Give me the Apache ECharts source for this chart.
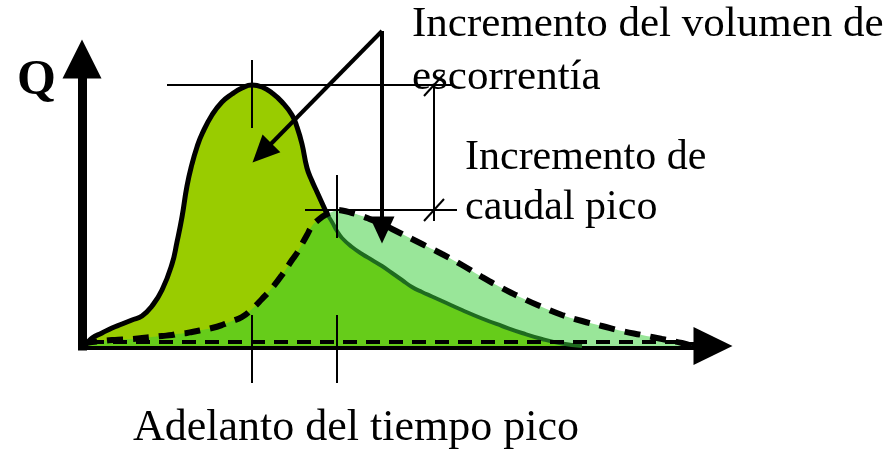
<!DOCTYPE html>
<html>
<head>
<meta charset="utf-8">
<script src="https://cdn.jsdelivr.net/npm/echarts@6/dist/echarts.min.js"></script>
<style>
  html, body { margin: 0; padding: 0; background: #fff; }
  #chart { width: 894px; height: 449px; }
</style>
</head>
<body>
<div id="chart"></div>
<script>
// tiempo (unidades arbitrarias) y caudal de los dos hidrogramas
var tiempo = [0, 0.5, 1, 2, 3, 4, 5, 6, 7, 8, 9, 9.5, 10, 10.5, 11, 11.5, 12, 13, 14, 15, 16, 17, 18, 19, 20, 21, 21.5, 22, 22.5, 23, 23.5, 24, 24.5, 25, 25.5, 26, 27, 28, 29, 30, 31, 32, 33, 34, 35, 36, 38, 40, 42, 44, 46, 48, 50, 52, 54, 56, 58, 60, 61];
var caudalUrbano = [0, 0.3, 0.8, 1.3, 1.8, 2.2, 2.6, 3.0, 4.0, 5.6, 8.2, 10.4, 12.9, 16.0, 18.2, 19.9, 21.2, 23.1, 24.4, 25.2, 25.8, 26.1, 25.9, 25.3, 24.4, 23.1, 21.9, 20.2, 17.8, 16.5, 15.4, 14.3, 13.2, 12.4, 11.5, 10.8, 9.9, 9.2, 8.6, 8.0, 7.3, 6.6, 5.9, 5.4, 4.95, 4.5, 3.6, 2.75, 2.0, 1.3, 0.7, 0.25, 0, 0, 0, 0, 0, 0, 0];
var caudalNatural = [0, 0.3, 0.4, 0.5, 0.6, 0.65, 0.7, 0.8, 0.9, 1.0, 1.1, 1.2, 1.25, 1.3, 1.4, 1.5, 1.6, 1.8, 2.1, 2.5, 2.9, 3.7, 4.7, 5.8, 7.1, 8.6, 9.3, 10.2, 11.1, 12.0, 12.5, 12.9, 13.2, 13.4, 13.6, 13.55, 13.3, 13.0, 12.6, 12.2, 11.7, 11.2, 10.7, 10.2, 9.7, 9.2, 8.1, 6.9, 5.8, 4.8, 3.9, 3.1, 2.5, 2.0, 1.5, 1.1, 0.7, 0.3, 0];

// anotaciones (mismas unidades que los datos)
var cotaX = 35.2;
var origenFlechas = [30.0, 31.5];
var finFlechas = [[18.0, 19.3], [30.0, 11.6]];

var textoVolumen = ['Incremento del volumen de', 'escorrentía'];
var textoCaudal = ['Incremento de', 'caudal pico'];
var textoTiempo = 'Adelanto del tiempo pico';
var textoEje = 'Q';

function pares(ys) {
    return tiempo.map(function (t, i) { return [t, ys[i]]; });
}
function pico(ys) {
    var k = 0;
    ys.forEach(function (v, i) { if (v > ys[k]) k = i; });
    return [tiempo[k], ys[k], k];
}

var picoU = pico(caudalUrbano);
var picoN = pico(caudalNatural);
var comun = caudalUrbano.map(function (v, i) { return Math.min(v, caudalNatural[i]); });
// punto donde la curva urbana baja por debajo de la natural
var corte = tiempo.findIndex(function (t, i) { return i > picoU[2] && caudalUrbano[i] <= caudalNatural[i]; });

var serif = '"Liberation Serif"';
var myChart = echarts.init(document.getElementById('chart'));

function seg(a, b) { return [{ coord: a }, { coord: b }]; }
function texto(txt, x, y, size, bold) {
    return { type: 'text', x: x, y: y, style: { text: txt, font: (bold ? 'bold ' : '') + size + 'px ' + serif, fill: '#000', verticalAlign: 'bottom' } };
}

var lineasFinas = [
    seg([8.5, picoU[1]], [37.1, picoU[1]]),
    seg([22.3, picoN[1]], [37.5, picoN[1]]),
    seg([picoU[0], picoU[1] + 2.5], [picoU[0], picoU[1] - 4.3]),
    seg([picoN[0], picoN[1] + 3.5], [picoN[0], picoN[1] - 2.8]),
    seg([picoU[0], 3.1], [picoU[0], -3.7]),
    seg([picoN[0], 3.1], [picoN[0], -3.7]),
    seg([cotaX, picoU[1]], [cotaX, picoN[1] - 1.1]),
    seg([cotaX - 1.0, picoU[1] - 1.1], [cotaX + 1.0, picoU[1] + 1.1]),
    seg([cotaX - 1.0, picoN[1] - 1.1], [cotaX + 1.0, picoN[1] + 1.1])
];

var option = {
    backgroundColor: '#fff',
    animation: false,
    grid: [
        { left: 82, right: 181, top: 59, bottom: 103 },
        { left: 0, right: 0, top: 0, bottom: 0 }
    ],
    xAxis: [
        {
            type: 'value', min: 0, max: 63.1,
            axisLine: {
                show: true, onZero: false,
                symbol: ['none', 'triangle'], symbolSize: [38, 39],
                lineStyle: { color: '#000', width: 8, cap: 'square' }
            },
            axisTick: { show: false }, axisLabel: { show: false }, splitLine: { show: false }
        },
        { type: 'value', gridIndex: 1, min: -8.2, max: 81.2, show: false }
    ],
    yAxis: [
        {
            type: 'value', min: 0, max: 28.7,
            axisLine: {
                show: true,
                symbol: ['none', 'triangle'], symbolSize: [39, 39],
                lineStyle: { color: '#000', width: 9, cap: 'square' }
            },
            axisTick: { show: false }, axisLabel: { show: false }, splitLine: { show: false }
        },
        { type: 'value', gridIndex: 1, min: -10.3, max: 34.6, show: false }
    ],
    series: [
        {
            name: 'natural', type: 'line', smooth: true, showSymbol: false, z: 1,
            data: pares(caudalNatural),
            lineStyle: { width: 0, opacity: 0 },
            areaStyle: { color: '#99e699', opacity: 1 }
        },
        {
            name: 'urbano', type: 'line', smooth: true, showSymbol: false, z: 2,
            data: pares(caudalUrbano),
            lineStyle: { width: 0, opacity: 0 },
            areaStyle: { color: '#99cc00', opacity: 1 }
        },
        {
            name: 'comun', type: 'line', smooth: true, showSymbol: false, z: 3,
            data: pares(comun),
            lineStyle: { width: 0, opacity: 0 },
            areaStyle: { color: '#66cc1a', opacity: 1 }
        },
        {
            name: 'linea natural', type: 'line', smooth: true, showSymbol: false, z: 5,
            data: pares(caudalNatural),
            lineStyle: { color: '#000', width: 6, type: [16, 10] }
        },
        {
            name: 'linea urbana', type: 'line', smooth: true, showSymbol: false, z: 4,
            data: pares(caudalUrbano).slice(0, corte + 1),
            lineStyle: { color: '#000', width: 5 }
        },
        {
            name: 'linea urbana baja', type: 'line', smooth: true, showSymbol: false, z: 4,
            data: pares(caudalUrbano).slice(corte).filter(function (p, i, a) { return i === 0 || a[i - 1][1] > 0; }),
            lineStyle: { color: '#1f6b1f', width: 4 }
        },
        {
            name: 'cotas', type: 'scatter', xAxisIndex: 1, yAxisIndex: 1, data: [], z: 6,
            markLine: {
                silent: true, symbol: ['none', 'none'],
                label: { show: false },
                lineStyle: { color: '#000', width: 2, type: 'solid' },
                data: lineasFinas
            }
        },
        {
            name: 'base', type: 'scatter', xAxisIndex: 1, yAxisIndex: 1, data: [], z: 6,
            markLine: {
                silent: true, symbol: ['none', 'none'],
                label: { show: false },
                lineStyle: { color: '#000', width: 4, type: [14, 9] },
                data: [seg([0.8, 0.4], [60, 0.4])]
            }
        },
        {
            name: 'flechas', type: 'scatter', xAxisIndex: 1, yAxisIndex: 1, data: [], z: 7,
            markLine: {
                silent: true, symbol: ['none', 'triangle'], symbolSize: [25, 27],
                label: { show: false },
                lineStyle: { color: '#000', width: 4, type: 'solid' },
                data: finFlechas.map(function (p) { return seg(origenFlechas, p); })
            }
        }
    ],
    graphic: [
        texto(textoVolumen[0], 412, 46, 43),
        texto(textoVolumen[1], 412, 99, 43),
        texto(textoCaudal[0], 465, 179, 42),
        texto(textoCaudal[1], 465, 229, 42),
        texto(textoTiempo, 133, 450, 44),
        texto(textoEje, 17, 106, 50, true)
    ]
};
myChart.setOption(option);
</script>
</body>
</html>
